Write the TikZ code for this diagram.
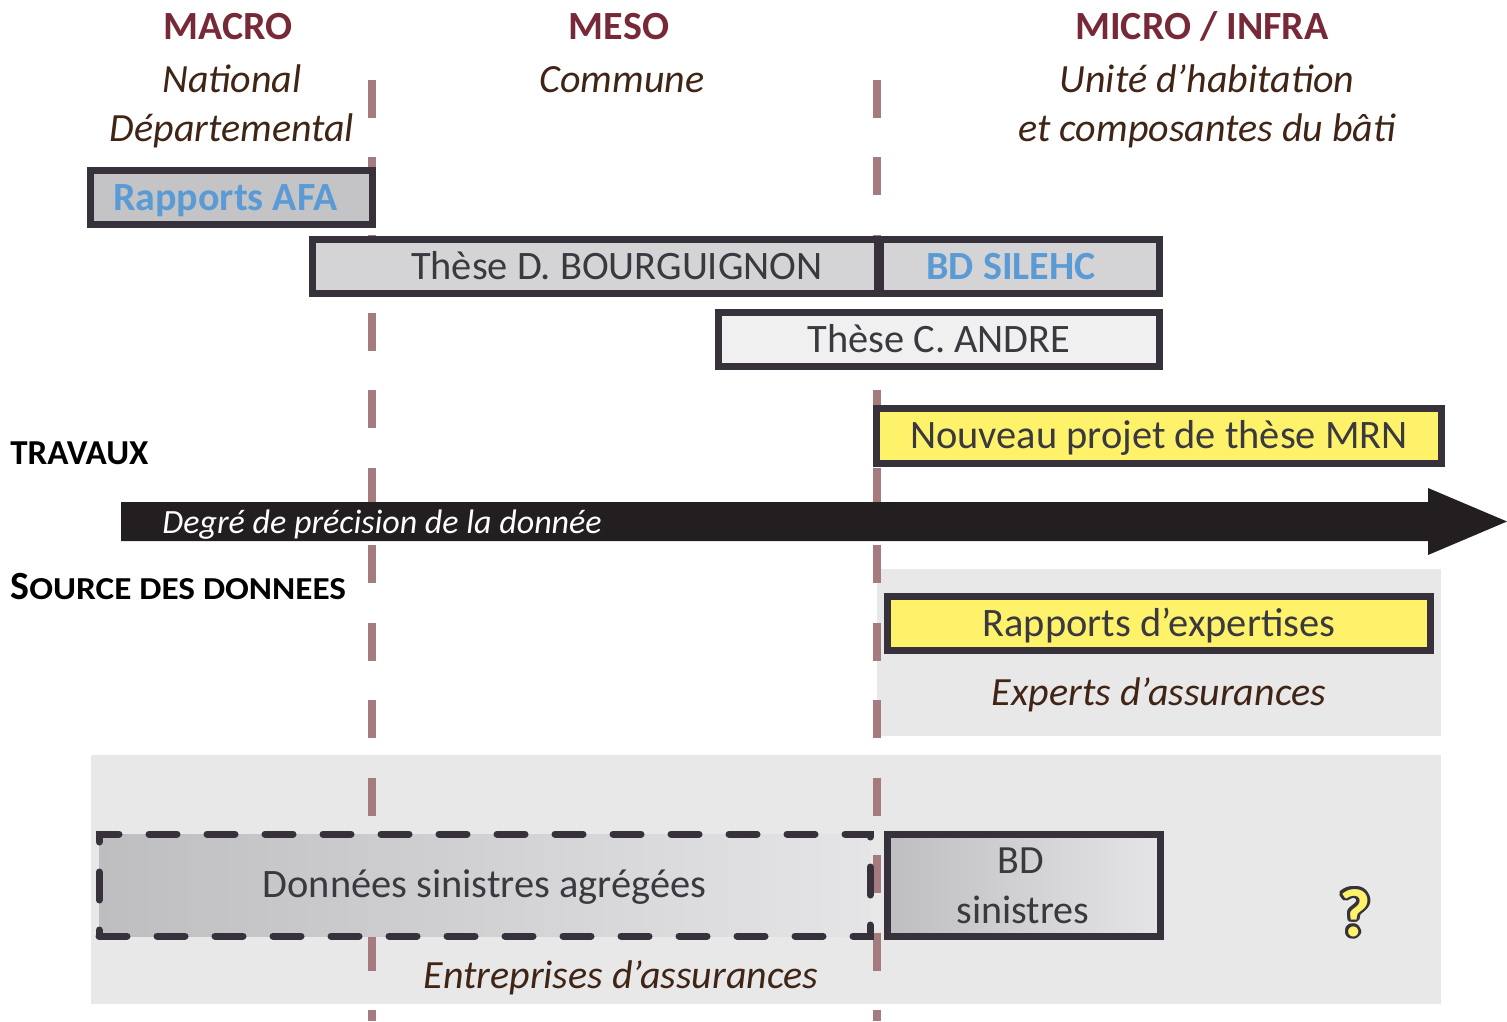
\documentclass[tikz,border=0pt]{standalone}
\usepackage{fontspec}
\setmainfont{Carlito}
\usetikzlibrary{positioning}

\definecolor{headred}{RGB}{119,41,55}
\definecolor{itbrown}{RGB}{64,36,22}
\definecolor{boxline}{RGB}{54,49,59}
\definecolor{boxtext}{RGB}{58,57,64}
\definecolor{afablue}{RGB}{91,155,213}
\definecolor{sepline}{RGB}{166,123,128}
\definecolor{hlyellow}{RGB}{255,242,107}
\definecolor{bggray}{RGB}{232,232,232}
\definecolor{afagray}{RGB}{196,196,198}
\definecolor{midgray}{RGB}{212,212,214}
\definecolor{palegray}{RGB}{240,240,240}
\definecolor{shadeleft}{RGB}{190,190,192}
\definecolor{shaderight}{RGB}{229,229,231}
\definecolor{arrowblack}{RGB}{35,31,32}

\begin{document}
\begin{tikzpicture}[x=0.5pt,y=-0.5pt,
    lvl/.style={font=\fontsize{20}{24}\selectfont\bfseries, text=headred, anchor=base, inner sep=0pt},
    unit/.style={font=\fontsize{20}{24}\selectfont\itshape, text=itbrown, anchor=base, inner sep=0pt},
    axis/.style={font=\fontsize{17.5}{20}\selectfont\bfseries, anchor=base west, inner sep=0pt},
    box/.style={draw=boxline, line width=3.5pt, text=boxtext, font=\fontsize{20.2}{24}\selectfont,
      inner sep=0pt, text height=15pt, text depth=2.1pt, minimum height=27pt},
    bd/.style={text=afablue, font=\fontsize{20}{24}\selectfont\bfseries},
    sep/.style={draw=sepline, line width=4pt, dash pattern=on 19pt off 19.75pt},
    zone/.style={fill=bggray},
    qmark/.style={font=\fontsize{34}{40}\selectfont\bfseries, anchor=base, inner sep=0pt}]
  \useasboundingbox (0,0) rectangle (1507,1021);

  % grey zones behind the sources
  \fill[zone] (877,569) rectangle (1441,736);
  \fill[zone] (91,755) rectangle (1441,1004);

  % scale separators
  \foreach \x in {372,877}
    \draw[sep] (\x,80) -- (\x,1021);

  % scale headings
  \node[lvl] (macro) at (228,40) {MACRO};
  \node[lvl] (meso) at (619,40) {MESO};
  \node[lvl] (micro) at (1202,40) {MICRO / INFRA};
  \node[unit] (national) at (232,93) {National};
  \node[unit] (dept) at (232,142) {Départemental};
  \node[unit] (commune) at (622,93) {Commune};
  \node[unit] (habitation) at (1207,93) {Unité d’habitation};
  \node[unit] (bati) at (1207,142) {et composantes du bâti};

  % travaux
  \node[box, fill=afagray, bd, minimum width=141pt] (afa) at (231.3,197.3) {\hspace*{-6pt}Rapports AFA};
  \node[box, fill=midgray, minimum width=282.25pt] (bourg) at (594.75,266.5) {\hspace*{22pt}Thèse D. BOURGUIGNON};
  \node[box, fill=midgray, bd, minimum width=139.75pt] (silehc) at (1020,266.5) {\hspace*{-9pt}BD SILEHC};
  \node[box, fill=palegray, minimum width=220.5pt] (andre) at (939,339.5) {Thèse C. ANDRE};
  \node[box, fill=hlyellow, minimum width=282.5pt, minimum height=27.5pt] (mrn) at (1159,436) {Nouveau projet de thèse MRN};
  \node[axis] (travaux) at (10,464) {TRAVAUX};

  % precision axis
  \fill[arrowblack] (121,502) -- (1428,502) -- (1428,488) -- (1507,521.5)
    -- (1428,555) -- (1428,541) -- (121,541) -- cycle;
  \node[font=\fontsize{17}{20}\selectfont\itshape, text=white, anchor=base west, inner sep=0pt] (degre) at (162,533) {Degré de précision de la donnée};

  % sources
  \node[axis] (source) at (10,599) {{\fontsize{20}{22}\selectfont S}\scalebox{1.1}[1]{\fontsize{16}{18}\selectfont OURCE DES DONNEES}};
  \node[box, fill=hlyellow, minimum width=271.5pt] (expertises) at (1159,623.5) {Rapports d’expertises};
  \node[unit] (experts) at (1159,705) {Experts d’assurances};

  \node[box, left color=shadeleft, right color=shaderight, dash pattern=on 14pt off 15pt, line cap=round,
    minimum width=385.5pt, minimum height=51pt] (agreg) at (484.5,885) {Données sinistres agrégées};
  \node[box, left color=shadeleft, right color=shaderight, minimum width=136.5pt, minimum height=51pt] (bdsin) at (1023.5,885) {};
  \node[font=\fontsize{20}{24}\selectfont, text=boxtext, anchor=base, inner sep=0pt] (bdl) at (1021,873) {BD};
  \node[font=\fontsize{20}{24}\selectfont, text=boxtext, anchor=base, inner sep=0pt] (sinl) at (1023,923) {sinistres};
  \node[unit] (entreprises) at (621,988) {Entreprises d’assurances};

  % unknown source
  \foreach \a in {0,30,...,330}
    \node[qmark, text=boxline, shift={(\a:1.4pt)}] (qo\a) at (1355,936) {?};
  \node[qmark, text=hlyellow] (q) at (1355,936) {?};
\end{tikzpicture}
\end{document}
